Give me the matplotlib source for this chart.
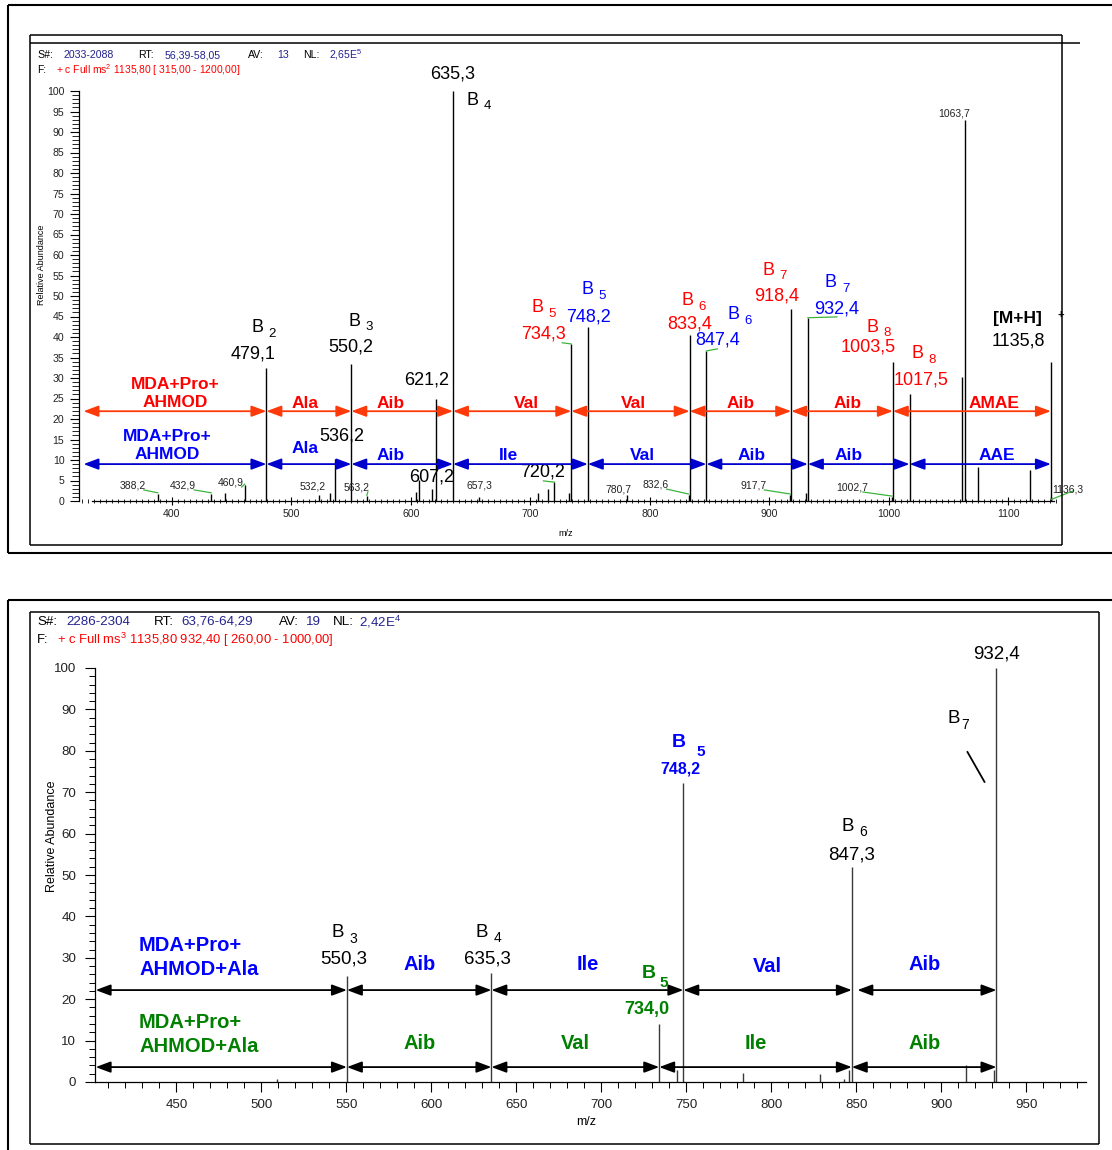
import matplotlib
matplotlib.use("Agg")
import matplotlib.pyplot as plt
from matplotlib.lines import Line2D
from matplotlib.ticker import MultipleLocator

plt.rcParams['font.family'] = ['Liberation Sans', 'DejaVu Sans']
plt.rcParams['mathtext.default'] = 'regular'

# ---------------------------------------------------------------------------
# MS2 spectrum of [M+H]+ 1135,80  (m/z, relative abundance %)
ms2_mz = [388.2, 432.9, 444.1, 460.9, 479.1, 522.8, 532.2, 536.2, 550.2, 563.2,
          604.0, 607.2, 617.8, 621.2, 635.3, 657.3, 706.8, 715.2, 720.2, 732.6,
          734.3, 748.2, 780.7, 832.6, 833.4, 847.4, 917.7, 918.4, 930.7, 932.4,
          1002.7, 1003.5, 1017.5, 1061.2, 1063.7, 1074.6, 1118.2, 1135.8, 1136.3]
ms2_int = [1.8, 1.8, 1.9, 3.9, 32.5, 1.5, 2.0, 10.2, 33.4, 1.2,
           2.2, 5.1, 2.9, 25.0, 100.0, 1.0, 2.0, 2.9, 4.6, 2.0,
           38.3, 42.4, 1.5, 1.5, 40.5, 36.6, 1.5, 46.8, 2.0, 44.7,
           1.0, 34.0, 26.1, 30.3, 92.9, 8.3, 7.6, 34.0, 1.0]
ms2_small_labels = [388.2, 432.9, 460.9, 532.2, 563.2, 657.3, 780.7, 832.6,
                    917.7, 1002.7, 1136.3]

# b-ion series (two sequence readings: red and blue)
red_bounds = [326.0, 479.1, 550.2, 635.3, 734.3, 833.4, 918.4, 1003.5, 1135.8]
red_names = ['MDA+Pro+\nAHMOD', 'Ala', 'Aib', 'Val', 'Val', 'Aib', 'Aib', 'AMAE']
blue_bounds = [326.0, 479.1, 550.2, 635.3, 748.2, 847.4, 932.4, 1017.5, 1135.8]
blue_names = ['MDA+Pro+\nAHMOD', 'Ala', 'Aib', 'Ile', 'Val', 'Aib', 'Aib', 'AAE']

# MS3 spectrum 1135,80 -> 932,40
ms3_mz = [508.9, 550.3, 635.3, 734.0, 744.7, 748.2, 783.3, 828.8, 842.8, 845.9,
          847.3, 914.2, 930.8, 932.4]
ms3_int = [0.8, 25.7, 26.3, 14.0, 2.9, 72.2, 2.2, 2.0, 0.8, 2.8,
           52.0, 4.1, 2.8, 100.0]
ms3_upper_bounds = [402.5, 550.3, 635.3, 748.2, 847.3, 932.4]
ms3_upper_names = ['MDA+Pro+\nAHMOD+Ala', 'Aib', 'Ile', 'Val', 'Aib']
ms3_lower_bounds = [402.5, 550.3, 635.3, 734.0, 847.3, 932.4]
ms3_lower_names = ['MDA+Pro+\nAHMOD+Ala', 'Aib', 'Val', 'Ile', 'Aib']

# ---------------------------------------------------------------------------
W, H = 1112, 1150
fig = plt.figure(figsize=(W / 100, H / 100), dpi=100)

RED = '#FF0000'
RED_ARROW = '#FF3A0A'
BLUE = '#0000FF'
BLUE_ARROW = '#0000CC'
GREEN = '#008000'
LEADER = '#3CB43C'
NAVY = '#23238E'


def fx(px):
    return px / W


def fy(py):
    return 1 - py / H


def fig_line(x0, y0, x1, y1, lw=1.1):
    fig.add_artist(Line2D([fx(x0), fx(x1)], [fy(y0), fy(y1)], color='black',
                          lw=lw, transform=fig.transFigure, solid_capstyle='butt'))


def comma(v):
    return f"{v:.1f}".replace('.', ',')


# frames
fig_line(8, 5, W, 5, 1.5)
fig_line(8, 5, 8, 553, 1.5)
fig_line(8, 553, W, 553, 1.5)
fig_line(30, 35, 1062, 35)
fig_line(30, 43, 1080, 43)
fig_line(30, 35, 30, 545)
fig_line(30, 545, 1062, 545)
fig_line(1062, 35, 1062, 545)

fig_line(8, 600, W, 600, 1.5)
fig_line(8, 600, 8, H, 1.5)
fig_line(30, 612, 1099, 612)
fig_line(30, 612, 30, 1144)
fig_line(30, 1144, 1099, 1144)
fig_line(1099, 612, 1099, 1144)


def header(items, y, size):
    for x, s, c in items:
        fig.text(fx(x), fy(y), s, color=c, fontsize=size, ha='left', va='center')


header([(37, 'S#:', 'black'), (64, '2033-2088', NAVY), (138, 'RT:', 'black'),
        (165, '56,39-58,05', NAVY), (248, 'AV:', 'black'), (277, '13', NAVY),
        (303, 'NL:', 'black'), (329, '2,65E$^{5}$', NAVY)], 55, 7.6)
header([(37, 'F:', 'black'),
        (56, '+ c Full ms$^{2}$ 1135,80 [ 315,00 - 1200,00]', RED)], 70, 7.4)

header([(37, 'S#:', 'black'), (66, '2286-2304', NAVY), (154, 'RT:', 'black'),
        (181, '63,76-64,29', NAVY), (279, 'AV:', 'black'), (306, '19', NAVY),
        (333, 'NL:', 'black'), (359, '2,42E$^{4}$', NAVY)], 622, 9.6)
header([(37, 'F:', 'black'),
        (57, '+ c Full ms$^{3}$ 1135,80 932,40 [ 260,00 - 1000,00]', RED)], 640, 9.4)


def darrow(ax, x0, x1, y, color, shrinkA=0):
    ax.annotate('', xy=(x1, y), xytext=(x0, y),
                arrowprops=dict(arrowstyle='<|-|>,head_length=0.75,head_width=0.28',
                                mutation_scale=12, color=color, lw=1.3,
                                shrinkA=shrinkA, shrinkB=0),
                annotation_clip=False)


def ptext(ax, x, y, s, dx=0, **kw):
    kw.setdefault('ha', 'center')
    kw.setdefault('va', 'center')
    ax.annotate(s, xy=(x, y), xytext=(dx, 0), textcoords='offset pixels',
                annotation_clip=False, **kw)


def bname(ax, x, y, dx, sub, color, size, subsize, gap=5, drop=1.5,
          weight='normal'):
    ptext(ax, x, y, 'B', dx=dx, ha='right', color=color, fontsize=size,
          fontweight=weight)
    ptext(ax, x, y - drop, sub, dx=dx + gap, ha='left', color=color,
          fontsize=subsize, fontweight=weight)


# ===================== MS2 panel =====================
ppu1 = 1.1946          # pixels per m/z unit
anchor_mz, anchor_px = 822.9, 677.1
ax1_l, ax1_r = 79, 1056
xlo1 = anchor_mz + (ax1_l - anchor_px) / ppu1
xhi1 = anchor_mz + (ax1_r - anchor_px) / ppu1
ax1 = fig.add_axes([fx(ax1_l), fy(501), fx(ax1_r) - fx(ax1_l), fy(91) - fy(501)])
ax1.set_xlim(xlo1, xhi1)
ax1.set_ylim(0, 100)
ax1.patch.set_alpha(0)
for s in ('top', 'right'):
    ax1.spines[s].set_visible(False)
ax1.spines['left'].set_linewidth(0.9)
ax1.spines['bottom'].set_linewidth(0.9)
ax1.spines['bottom'].set_bounds(333, 1138)
ax1.yaxis.set_major_locator(MultipleLocator(5))
ax1.yaxis.set_minor_locator(MultipleLocator(1))
ax1.xaxis.set_major_locator(MultipleLocator(100))
ax1.xaxis.set_minor_locator(MultipleLocator(5))
ax1.tick_params(axis='y', which='major', length=6.5, width=0.8, pad=4,
                labelsize=7.6, labelcolor='#222222')
ax1.tick_params(axis='y', which='minor', length=4.8, width=0.6)
ax1.tick_params(axis='x', which='major', direction='inout', length=6, width=0.8,
                pad=2.5, labelsize=7.6, labelcolor='#222222')
ax1.tick_params(axis='x', which='minor', direction='inout', length=3.5, width=0.6)
ax1.set_xticks([t for t in range(400, 1200, 100)])
ax1.set_yticks(range(0, 101, 5))

ax1.vlines(ms2_mz, 0, ms2_int, color='black', lw=1.0)

fig.text(fx(41), fy(265), 'Relative Abundance', rotation=90, fontsize=6.5,
         ha='center', va='center')
fig.text(fx(566), fy(534), 'm/z', fontsize=6.5, ha='center', va='center')

inten2 = dict(zip(ms2_mz, ms2_int))

# small peak labels with leaders: (dx_label_px, y_label, leader?)
small_pos = {388.2: (-25, 3.9, True), 432.9: (-28, 3.9, True),
             460.9: (-14, 4.6, True), 532.2: (-17, 3.5, False),
             563.2: (-10, 3.4, True), 657.3: (0, 3.9, False),
             780.7: (-8, 2.9, False), 832.6: (-33, 4.1, True),
             917.7: (-37, 3.9, True), 1002.7: (-40, 3.4, True),
             1136.3: (16, 2.9, True)}
for mz in ms2_small_labels:
    dx, yl, lead = small_pos[mz]
    ptext(ax1, mz, yl, comma(mz), dx=dx, fontsize=7.5, color='#222222')
    if lead:
        if dx < 0:
            xs = mz + (dx + 11) / ppu1
            ax1.plot([xs, mz], [yl - 1.2, inten2[mz] + 0.2], color=LEADER, lw=0.9,
                     clip_on=False)
        else:
            ax1.plot([mz, mz + (dx + 6) / ppu1], [inten2[mz] - 0.6, yl - 0.4],
                     color=LEADER, lw=0.9, clip_on=False)

# b-ion labels: (subscript, value dx, value y, B dx, B y, colour)
b2 = {479.1: ('2', -13, 35.9, -3, 42.2, 'black'),
      550.2: ('3', -1, 37.6, 9, 43.9, 'black'),
      635.3: ('4', 0, 104.1, 26, 97.8, 'black'),
      734.3: ('5', -28, 40.7, -28, 47.1, RED),
      748.2: ('5', 1, 44.9, 6, 51.5, BLUE),
      833.4: ('6', 0, 43.2, 4, 48.8, RED),
      847.4: ('6', 11, 39.3, 33, 45.4, BLUE),
      918.4: ('7', -15, 50.0, -17, 56.3, RED),
      932.4: ('7', 29, 46.8, 29, 53.2, BLUE),
      1003.5: ('8', -25, 37.6, -14, 42.4, RED),
      1017.5: ('8', 11, 29.5, 14, 35.9, RED)}
for mz, (sub, vdx, vy, bdx, by, col) in b2.items():
    ptext(ax1, mz, vy, comma(mz), dx=vdx, fontsize=13, color=col)
    bname(ax1, mz, by, bdx, sub, col, 13, 9.5)

for mz, vdx, vy in [(621.2, -10, 29.5), (536.2, 7, 15.9), (607.2, 12, 5.9),
                    (720.2, -12, 7.1), (1135.8, -33, 39.0)]:
    ptext(ax1, mz, vy, comma(mz), dx=vdx, fontsize=13, color='black')
ptext(ax1, 1063.7, 94.6, comma(1063.7), dx=-11, fontsize=7.5, color='#222222')
ptext(ax1, 1135.8, 44.6, '[M+H]', dx=-33, fontsize=12.5, fontweight='bold')
ptext(ax1, 1135.8, 45.3, '+', dx=10, fontsize=8, fontweight='bold')

# green leaders joining peaks to their displaced labels
for mz, ldx, ldy in [(734.3, -9, 0.3), (847.4, 11, 0.5), (932.4, 29, 0.2),
                     (720.2, -11, 0.3)]:
    ax1.plot([mz, mz + ldx / ppu1], [inten2[mz], inten2[mz] + ldy],
             color=LEADER, lw=0.9, clip_on=False)

# sequence arrows
red_y, blue_y = 21.9, 9.0
red_lab = [(0, 26.2), (-4, 23.9), (-12, 23.9), (14, 23.9), (3, 23.9),
           (0, 23.9), (6, 23.9), (22, 23.9)]
blue_lab = [(-8, 13.5), (-4, 12.7), (-12, 11.0), (-12, 11.0), (-5, 11.0),
            (-6, 11.0), (-10, 11.0), (17, 11.0)]
for i, name in enumerate(red_names):
    a, b = red_bounds[i], red_bounds[i + 1]
    darrow(ax1, a, b, red_y, RED_ARROW)
    dx, ly = red_lab[i]
    ptext(ax1, (a + b) / 2, ly, name, dx=dx, fontsize=12.5, fontweight='bold',
          color=RED, linespacing=1.3)
for i, name in enumerate(blue_names):
    a, b = blue_bounds[i], blue_bounds[i + 1]
    darrow(ax1, a, b, blue_y, BLUE_ARROW)
    dx, ly = blue_lab[i]
    ptext(ax1, (a + b) / 2, ly, name, dx=dx, fontsize=12.5, fontweight='bold',
          color=BLUE, linespacing=1.3)

# ===================== MS3 panel =====================
ppu2 = 1.7
ax2_l, ax2_r = 95, 1086
xlo2 = 448 + (ax2_l - 173) / ppu2
xhi2 = 448 + (ax2_r - 173) / ppu2
ax2 = fig.add_axes([fx(ax2_l), fy(1082), fx(ax2_r) - fx(ax2_l), fy(668) - fy(1082)])
ax2.set_xlim(xlo2, xhi2)
ax2.set_ylim(0, 100)
ax2.patch.set_alpha(0)
for s in ('top', 'right'):
    ax2.spines[s].set_visible(False)
ax2.spines['left'].set_linewidth(0.9)
ax2.spines['bottom'].set_linewidth(0.9)
ax2.xaxis.set_major_locator(MultipleLocator(50))
ax2.xaxis.set_minor_locator(MultipleLocator(10))
ax2.yaxis.set_major_locator(MultipleLocator(10))
ax2.yaxis.set_minor_locator(MultipleLocator(2))
ax2.tick_params(axis='both', which='major', length=7.5, width=0.8, labelsize=9.6,
                labelcolor='#222222')
ax2.tick_params(axis='y', which='major', pad=6)
ax2.tick_params(axis='x', which='major', pad=5)
ax2.tick_params(axis='both', which='minor', length=4.5, width=0.7)

ax2.vlines(ms3_mz, 0, ms3_int, color='#3a3a3a', lw=1.0)

fig.text(fx(52), fy(836), 'Relative Abundance', rotation=90, fontsize=9,
         ha='center', va='center')
fig.text(fx(586), fy(1122), 'm/z', fontsize=9, ha='center', va='center')

ms3_up_y, ms3_lo_y = 22.2, 3.6
up_lab_y = [30.1, 28.3, 28.3, 27.8, 28.3]
lo_lab_y = [11.5, 9.4, 9.4, 9.4, 9.4]
for i, name in enumerate(ms3_upper_names):
    a, b = ms3_upper_bounds[i], ms3_upper_bounds[i + 1]
    darrow(ax2, a, b, ms3_up_y, 'black', shrinkA=4 if i == 4 else 0)
    if i == 0:
        ptext(ax2, 428, up_lab_y[i], name, ha='left', fontsize=14.5,
              fontweight='bold', color=BLUE, linespacing=1.3)
    else:
        ptext(ax2, (a + b) / 2, up_lab_y[i], name, fontsize=14.5,
              fontweight='bold', color=BLUE)
for i, name in enumerate(ms3_lower_names):
    a, b = ms3_lower_bounds[i], ms3_lower_bounds[i + 1]
    darrow(ax2, a, b, ms3_lo_y, 'black')
    if i == 0:
        ptext(ax2, 428, lo_lab_y[i], name, ha='left', fontsize=14.5,
              fontweight='bold', color=GREEN, linespacing=1.3)
    else:
        ptext(ax2, (a + b) / 2, lo_lab_y[i], name, fontsize=14.5,
              fontweight='bold', color=GREEN)

# b-ion labels of the MS3 spectrum
ptext(ax2, 550.3, 29.7, comma(550.3), dx=-3, fontsize=13.5)
bname(ax2, 550.3, 36.0, -3, '3', 'black', 13.5, 10)
ptext(ax2, 635.3, 29.7, comma(635.3), dx=-4, fontsize=13.5)
bname(ax2, 635.3, 36.2, -3, '4', 'black', 13.5, 10)
ptext(ax2, 847.3, 54.8, comma(847.3), dx=0, fontsize=13.5)
bname(ax2, 847.3, 61.8, 2, '6', 'black', 13.5, 10)
ptext(ax2, 932.4, 103.4, comma(932.4), dx=0, fontsize=13.5)
bname(ax2, 932.4, 87.7, -36, '7', 'black', 13.5, 10, gap=1, drop=1.5)
ax2.plot([932.4 - 29 / ppu2, 932.4 - 12 / ppu2], [79.7, 72.5], color='black',
         lw=1.3, clip_on=False)
ptext(ax2, 748.2, 75.6, comma(748.2), dx=-3, fontsize=11.5, fontweight='bold',
      color=BLUE)
bname(ax2, 748.2, 82.1, 2, '5', BLUE, 14, 11, gap=11, drop=2.4, weight='bold')
ptext(ax2, 734.0, 17.6, comma(734.0), dx=-12, fontsize=13, fontweight='bold',
      color=GREEN)
bname(ax2, 734.0, 26.1, -3, '5', GREEN, 14, 11, gap=3, drop=2.2, weight='bold')

fig.savefig('out.png', dpi=100)
